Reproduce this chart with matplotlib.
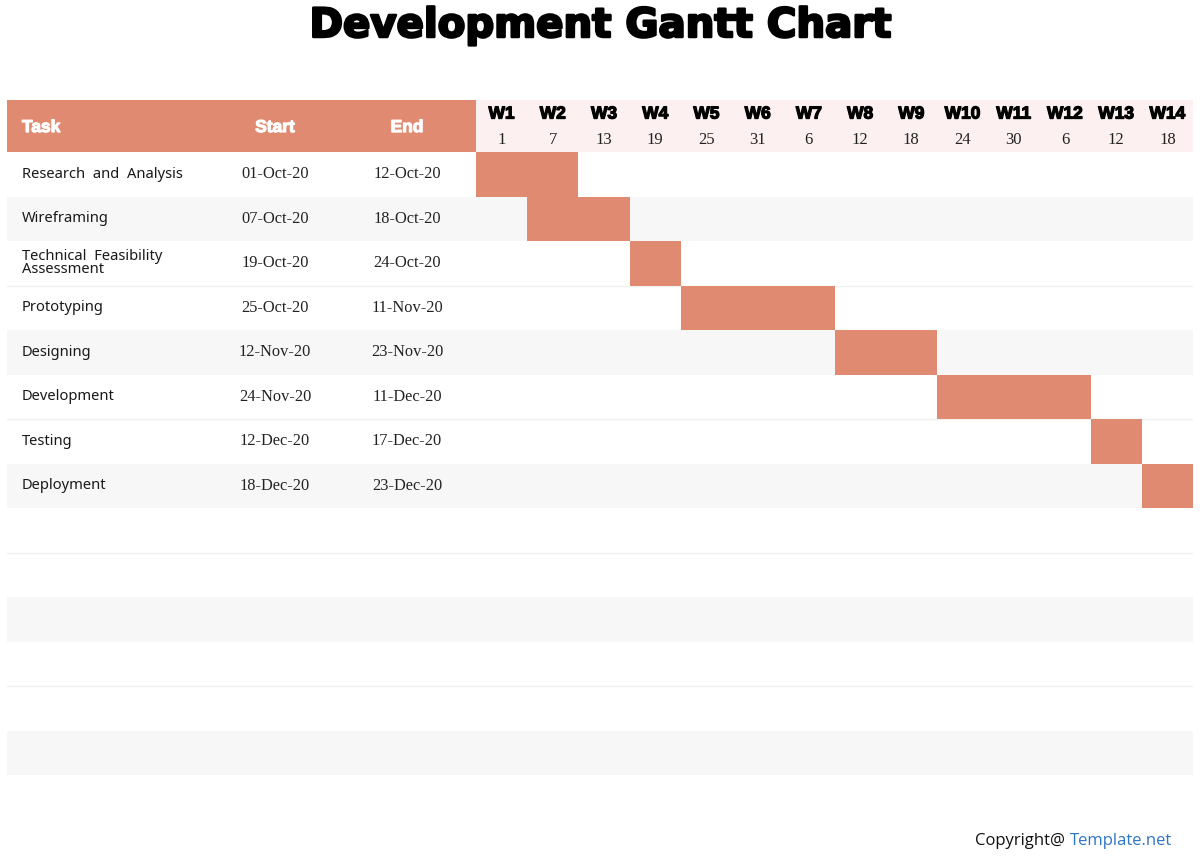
import datetime as dt
import matplotlib.pyplot as plt
import matplotlib.patheffects as pe

# data
tasks = ['Research  and  Analysis', 'Wireframing', 'Technical  Feasibility\nAssessment',
         'Prototyping', 'Designing', 'Development', 'Testing', 'Deployment']
starts = ['01-Oct-20', '07-Oct-20', '19-Oct-20', '25-Oct-20',
          '12-Nov-20', '24-Nov-20', '12-Dec-20', '18-Dec-20']
ends = ['12-Oct-20', '18-Oct-20', '24-Oct-20', '11-Nov-20',
        '23-Nov-20', '11-Dec-20', '17-Dec-20', '23-Dec-20']
weeks = ['W%d' % i for i in range(1, 15)]
week_days = [1, 7, 13, 19, 25, 31, 6, 12, 18, 24, 30, 6, 12, 18]
project_start = '01-Oct-20'
days_per_week = 6
n_rows = 14

salmon = '#E08A72'
pink = '#FDF0F0'
grey = '#F7F7F7'

W, H = 1200, 858
fig = plt.figure(figsize=(12, 8.58), dpi=100)


def box(x0, y0, x1, y1):
    # pixel box (top-left origin) -> figure fraction rect
    return [x0 / W, 1 - y1 / H, (x1 - x0) / W, (y1 - y0) / H]


# full-width body axes for row stripes and table text
body = fig.add_axes(box(7, 152, 1193, 775))
body.set_xlim(0, 1186)
body.set_ylim(n_rows, 0)
body.axis('off')
for r in range(n_rows):
    if r % 3 == 1:
        body.axhspan(r, r + 1, color=grey, lw=0)
    if r % 3 == 2:
        body.axhline(r + 1, color='#F2F2F2', lw=1)

for i, t in enumerate(tasks):
    y = i + 0.5
    body.text(15, y, t, ha='left', va='center', fontsize=10.6,
              family='Noto Sans', color='#1a1a1a', linespacing=0.78)
    body.text(268, y, starts[i], ha='center', va='center', fontsize=11.8,
              family='Liberation Serif', color='#222222')
    body.text(400, y, ends[i], ha='center', va='center', fontsize=11.8,
              family='Liberation Serif', color='#222222')

# gantt axes in days
fmt = '%d-%b-%y'
t0 = dt.datetime.strptime(project_start, fmt)
offs = [(dt.datetime.strptime(s, fmt) - t0).days for s in starts]
durs = [(dt.datetime.strptime(e, fmt) - dt.datetime.strptime(s, fmt)).days + 1
        for s, e in zip(starts, ends)]

gantt = fig.add_axes(box(476, 152, 1193, 775))
gantt.patch.set_alpha(0)
gantt.barh([i + 0.5 for i in range(len(tasks))], durs, left=offs, height=1.0,
           color=salmon, lw=0)
gantt.set_xlim(0, days_per_week * len(weeks))
gantt.set_ylim(n_rows, 0)
gantt.axis('off')

# header: left table part
head_l = fig.add_axes(box(7, 100, 476, 152))
head_l.set_facecolor(salmon)
head_l.set_xlim(0, 469)
head_l.set_ylim(0, 1)
for s in head_l.spines.values():
    s.set_visible(False)
head_l.set_xticks([])
head_l.set_yticks([])
hkw = dict(va='center', fontsize=12.5, family='Liberation Sans',
           fontweight='bold', color='white',
           path_effects=[pe.withStroke(linewidth=0.8, foreground='white')])
head_l.text(15, 0.47, 'Task', ha='left', **hkw)
head_l.text(268, 0.47, 'Start', ha='center', **hkw)
head_l.text(400, 0.47, 'End', ha='center', **hkw)

# header: weeks
head_r = fig.add_axes(box(476, 100, 1193, 152))
head_r.set_facecolor(pink)
head_r.set_xlim(0, days_per_week * len(weeks))
head_r.set_ylim(0, 1)
for s in head_r.spines.values():
    s.set_visible(False)
head_r.set_xticks([])
head_r.set_yticks([])
for k, (w, d) in enumerate(zip(weeks, week_days)):
    xc = days_per_week * (k + 0.5)
    head_r.text(xc, 0.73, w, ha='center', va='center', fontsize=12.5,
                family='Liberation Sans', fontweight='bold', color='black',
                path_effects=[pe.withStroke(linewidth=0.9, foreground='black')])
    head_r.text(xc, 0.24, str(d), ha='center', va='center', fontsize=12,
                family='Liberation Serif', color='#222222')

# title
fig.text(0.5, 1 - 37 / H, 'Development Gantt Chart', ha='center', va='baseline',
         fontsize=29, family='DejaVu Sans', fontweight='bold', color='black',
         path_effects=[pe.withStroke(linewidth=1.8, foreground='black')])

# footer
t2 = fig.text(1172 / W, 1 - 841 / H, 'Template.net', ha='right', va='center',
              fontsize=12, family='Open Sans', color='#2F75C5')
body.annotate('Copyright@ ', xy=(0, 0.5), xycoords=t2, ha='right', va='center',
              fontsize=12, family='Open Sans', color='#111111',
              annotation_clip=False)

fig.savefig('out.png', dpi=100)
